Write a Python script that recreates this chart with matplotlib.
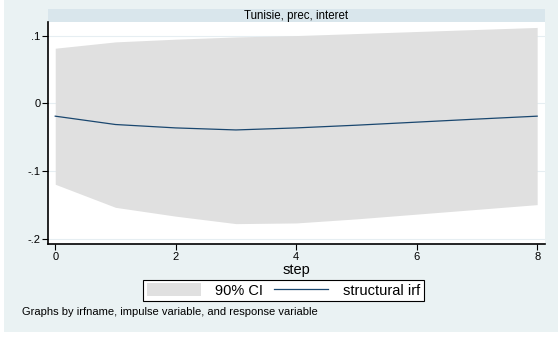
import matplotlib
matplotlib.use("Agg")
import matplotlib.pyplot as plt
from matplotlib.patches import Rectangle, Patch
from matplotlib.lines import Line2D

plt.rcParams['font.family'] = ['Liberation Sans', 'DejaVu Sans']

steps = [0, 1, 2, 3, 4, 5, 6, 7, 8]
irf = [-0.0187, -0.031, -0.036, -0.039, -0.036, -0.032, -0.0275, -0.023, -0.0187]
ci_upper = [0.0814, 0.0907, 0.0947, 0.098, 0.100, 0.103, 0.106, 0.109, 0.112]
ci_lower = [-0.119, -0.153, -0.166, -0.177, -0.176, -0.170, -0.163, -0.156, -0.149]
yticks = [-0.2, -0.1, 0, 0.1]
ytick_labels = ['-.2', '-.1', '0', '.1']
xticks = [0, 2, 4, 6, 8]
panel_title = 'Tunisie, prec, interet'
note = 'Graphs by irfname, impulse variable, and response variable'

bg = '#eaf2f3'
strip = '#d9e6ec'
band = '#e0e0e0'
navy = '#1a476f'

fig = plt.figure(figsize=(5.58, 3.40), dpi=100, facecolor='white')
fig.patches.append(Rectangle((4/558, 8/340), 554/558, 332/340, transform=fig.transFigure,
                             facecolor=bg, edgecolor='none', zorder=-10))
fig.patches.append(Rectangle((48/558, 1-22/340), (545-48)/558, 13/340, transform=fig.transFigure,
                             facecolor=strip, edgecolor='none', zorder=-5))
fig.text((48+545)/2/558, 1-15.5/340, panel_title, ha='center', va='center', fontsize=8.3)

ax = fig.add_axes([48/558, 1-244/340, (545-48)/558, (244-22)/340])
ax.set_facecolor('white')
ax.fill_between(steps, ci_lower, ci_upper, color=band, linewidth=0, zorder=2)
ax.plot(steps, irf, color=navy, linewidth=0.9, zorder=3)
ax.set_xlim(-0.12, 8.13)
ax.set_ylim(-0.207, 0.120)
ax.set_yticks(yticks)
ax.set_yticklabels(ytick_labels)
ax.set_xticks(xticks)
for y in yticks:
    ax.axhline(y, color='#e6eef2', linewidth=0.8, zorder=1)
for s in ['top', 'right']:
    ax.spines[s].set_visible(False)
for s in ['left', 'bottom']:
    ax.spines[s].set_linewidth(1.2)
    ax.spines[s].set_color('black')
ax.tick_params(axis='both', labelsize=8, length=4, width=0.8, pad=1.5)
ax.set_xlabel('step', fontsize=10.5, labelpad=1)

handles = [Patch(facecolor=band, edgecolor='none'), Line2D([0], [0], color=navy, linewidth=0.9)]
leg = fig.legend(handles, ['90% CI', 'structural irf'], ncol=2, loc='center',
                 bbox_to_anchor=(283.5/558, 1-290.5/340), fontsize=10.5, frameon=True,
                 fancybox=False, edgecolor='black', facecolor='white', framealpha=1,
                 handlelength=3.7, handleheight=1.0, columnspacing=0.75, borderpad=0.25,
                 handletextpad=1.0)
leg.get_frame().set_linewidth(0.8)
fig.text(22/558, 1-312/340, note, ha='left', va='center', fontsize=8)

fig.savefig('out.png', dpi=100, facecolor='white')
